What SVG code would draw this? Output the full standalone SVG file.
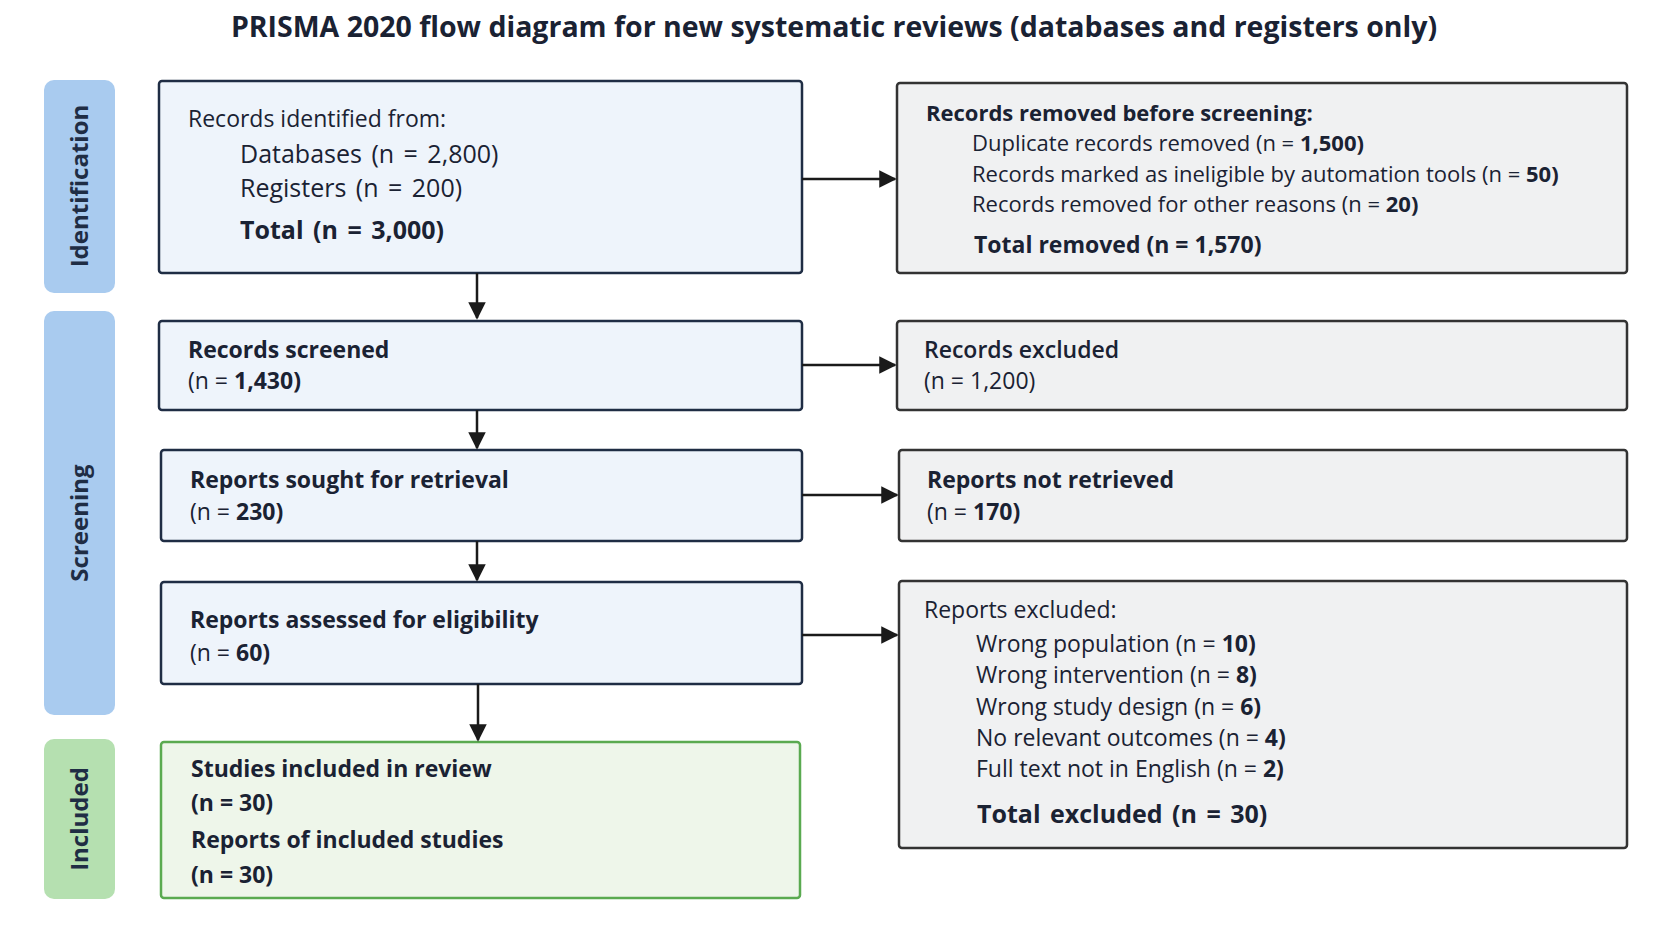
<svg xmlns="http://www.w3.org/2000/svg" width="1672" height="941" viewBox="0 0 1672 941">
<style>
text{font-family:"Open Sans","Noto Sans","DejaVu Sans",sans-serif;fill:#1a2233}
.t{font-size:23px}.s{font-size:22px}.l{font-size:25px;word-spacing:3px}
.b{font-weight:700}
.lb{fill:#eef4fb;stroke:#1f2d44;stroke-width:2.5}
.rb{fill:#f0f1f2;stroke:#333;stroke-width:2.5}
.gb{fill:#eef6ea;stroke:#5aaa50;stroke-width:2.5}
.side{font-size:24px;font-weight:700;fill:#1f2d44}
.c{stroke:#1a1a1a;stroke-width:2.5;fill:none;marker-end:url(#a)}
</style>
<defs><marker id="a" viewBox="0 0 10 10" refX="9" refY="5" markerWidth="7" markerHeight="7" orient="auto"><path d="M0,0L10,5L0,10z" fill="#1a1a1a"/></marker></defs>
<rect width="1672" height="941" fill="#fff"/>
<text x="834" y="37" text-anchor="middle" class="b" font-size="28.5" fill="#1f2d44">PRISMA 2020 flow diagram for new systematic reviews (databases and registers only)</text>
<g id="tab-identification"><rect x="44" y="80" width="71" height="213" rx="10" fill="#a9cbef"/><text class="side" transform="translate(88,186) rotate(-90)" text-anchor="middle">Identification</text></g>
<g id="tab-screening"><rect x="44" y="311" width="71" height="404" rx="10" fill="#a9cbef"/><text class="side" transform="translate(88,523) rotate(-90)" text-anchor="middle">Screening</text></g>
<g id="tab-included"><rect x="44" y="739" width="71" height="160" rx="10" fill="#b5e0b0"/><text class="side" transform="translate(88,819) rotate(-90)" text-anchor="middle">Included</text></g>
<g id="identified"><rect class="lb" x="159" y="81" width="643" height="192" rx="3"/>
<text x="188" y="127" class="t">Records identified from:</text>
<text x="240" y="163" class="l">Databases (n = 2,800)</text>
<text x="240" y="197" class="l">Registers (n = 200)</text>
<text x="240" y="239" class="l b">Total (n = 3,000)</text></g>
<g id="removed"><rect class="rb" x="897" y="83" width="730" height="190" rx="3"/>
<text x="926" y="121" class="s b">Records removed before screening:</text>
<text x="972" y="151" class="s">Duplicate records removed (n = <tspan class="b">1,500)</tspan></text>
<text x="972" y="182" class="s">Records marked as ineligible by automation tools (n = <tspan class="b">50)</tspan></text>
<text x="972" y="212" class="s">Records removed for other reasons (n = <tspan class="b">20)</tspan></text>
<text x="974" y="253" class="t b">Total removed (n = 1,570)</text></g>
<g id="screened"><rect class="lb" x="159" y="321" width="643" height="89" rx="3"/>
<text x="188" y="358" class="t b">Records screened</text><text x="188" y="389" class="t">(n = <tspan class="b">1,430)</tspan></text></g>
<g id="excluded1"><rect class="rb" x="897" y="321" width="730" height="89" rx="3"/>
<text x="924" y="358" class="t" font-weight="600">Records excluded</text><text x="924" y="389" class="t">(n = 1,200)</text></g>
<g id="sought"><rect class="lb" x="161" y="450" width="641" height="91" rx="3"/>
<text x="190" y="488" class="t b">Reports sought for retrieval</text><text x="190" y="520" class="t">(n = <tspan class="b">230)</tspan></text></g>
<g id="notretrieved"><rect class="rb" x="899" y="450" width="728" height="91" rx="3"/>
<text x="927" y="488" class="t b">Reports not retrieved</text><text x="927" y="520" class="t">(n = <tspan class="b">170)</tspan></text></g>
<g id="assessed"><rect class="lb" x="161" y="582" width="641" height="102" rx="3"/>
<text x="190" y="628" class="t b">Reports assessed for eligibility</text><text x="190" y="661" class="t">(n = <tspan class="b">60)</tspan></text></g>
<g id="excluded2"><rect class="rb" x="899" y="581" width="728" height="267" rx="3"/>
<text x="924" y="618" class="t">Reports excluded:</text>
<text x="976" y="652" class="t">Wrong population (n = <tspan class="b">10)</tspan></text>
<text x="976" y="683" class="t">Wrong intervention (n = <tspan class="b">8)</tspan></text>
<text x="976" y="715" class="t">Wrong study design (n = <tspan class="b">6)</tspan></text>
<text x="976" y="746" class="t">No relevant outcomes (n = <tspan class="b">4)</tspan></text>
<text x="976" y="777" class="t">Full text not in English (n = <tspan class="b">2)</tspan></text>
<text x="977" y="823" class="l b">Total excluded (n = 30)</text></g>
<g id="included"><rect class="gb" x="161" y="742" width="639" height="156" rx="3"/>
<text x="191" y="777" class="t b">Studies included in review</text>
<text x="191" y="811" class="t b">(n = 30)</text>
<text x="191" y="848" class="t b">Reports of included studies</text>
<text x="191" y="883" class="t b">(n = 30)</text></g>
<g id="connectors">
<path class="c" d="M802,179H895"/><path class="c" d="M802,365H895"/><path class="c" d="M802,495H897"/><path class="c" d="M802,635H897"/>
<path class="c" d="M477,273V318"/><path class="c" d="M477,410V448"/><path class="c" d="M477,541V580"/><path class="c" d="M478,684V740"/>
</g>
</svg>
